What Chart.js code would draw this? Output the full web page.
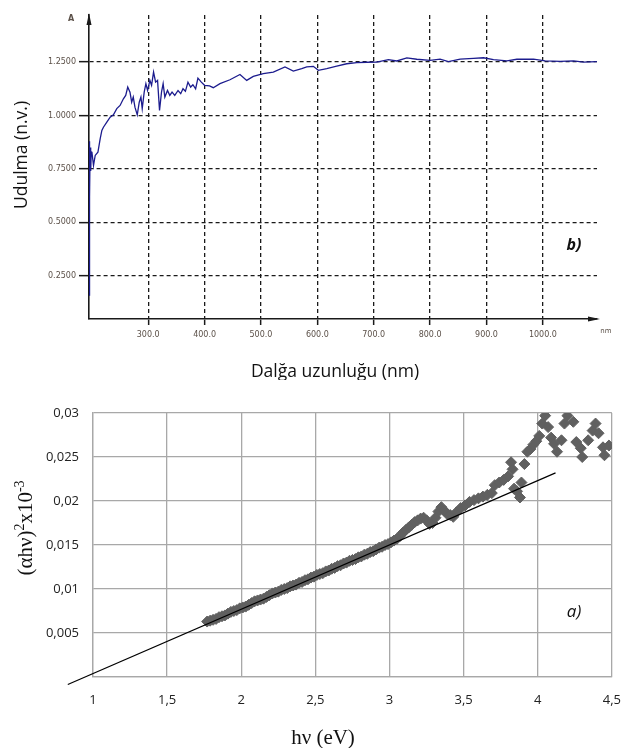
<!DOCTYPE html>
<html><head><meta charset="utf-8">
<script src="https://cdn.jsdelivr.net/npm/chart.js@4.4.0/dist/chart.umd.min.js"></script>
<style>
html,body{margin:0;padding:0;background:#fff;}
#wrap{position:relative;width:636px;height:748px;overflow:hidden;background:#fff;}
#c1{position:absolute;left:0;top:0;}
#c2{position:absolute;left:0;top:380px;}
</style></head><body>
<div id="wrap"><canvas id="c1" width="636" height="380"></canvas><canvas id="c2" width="636" height="368"></canvas></div>
<script>
// ---------- (b) absorption spectrum ----------
const wavelengthNm = [195,195.6,196.3,197,198,199,200.2,203,206,210.8,214.8,217.8,220.6,226.6,232.5,238.3,244.3,250.1,256,260.1,263.7,267.7,270.7,273.5,276.5,280.6,284.1,287.1,289.4,292.9,295.9,298.9,303,306,309.5,313.1,316.6,320.1,323.6,326.5,329.5,334.2,338.3,342.3,347.1,352.9,357.7,361.7,366,370.5,375.3,379.3,384.1,388.2,394.2,400,408.8,415.4,427.3,445,462.8,474.7,486.4,504.1,521.9,542.6,557.4,572.3,581.2,592.9,601.8,616.7,634.4,652.2,669.9,687.7,705.4,726,740.9,758.7,776.4,800,817.7,832.5,853.3,876.9,894.6,912.4,936.2,953.9,983.4,1004.1,1030.8,1054.4,1072.1,1095.9];
const absorbance = [0.16,0.88,0.62,0.85,0.74,0.83,0.828,0.766,0.813,0.828,0.891,0.93,0.945,0.969,0.992,1.003,1.032,1.047,1.078,1.094,1.133,1.109,1.062,1.086,1.039,1.003,1.062,1.086,1.032,1.109,1.149,1.117,1.164,1.141,1.203,1.156,1.164,1.024,1.109,1.149,1.086,1.117,1.094,1.109,1.094,1.117,1.102,1.125,1.113,1.156,1.133,1.144,1.125,1.175,1.156,1.141,1.138,1.13,1.149,1.167,1.192,1.164,1.183,1.196,1.203,1.227,1.208,1.219,1.227,1.23,1.211,1.219,1.231,1.242,1.247,1.249,1.25,1.261,1.255,1.269,1.263,1.258,1.264,1.252,1.264,1.267,1.27,1.261,1.255,1.263,1.264,1.255,1.253,1.255,1.25,1.252];
const wavelengthTicks = [300,400,500,600,700,800,900,1000];
const absorbanceTicks = [0.25,0.5,0.75,1.0,1.25];

// ---------- (a) Tauc plot ----------
const photonEnergy = [
1.77,1.79,1.81,1.83,1.85,1.87,1.89,1.91,1.93,1.95,
1.97,1.99,2.01,2.03,2.05,2.07,2.09,2.11,2.13,2.15,
2.17,2.19,2.21,2.23,2.25,2.27,2.29,2.31,2.33,2.35,
2.37,2.39,2.41,2.43,2.45,2.47,2.49,2.51,2.53,2.55,
2.57,2.59,2.61,2.63,2.65,2.67,2.69,2.71,2.73,2.75,
2.77,2.79,2.81,2.83,2.85,2.87,2.89,2.91,2.93,2.95,
2.97,2.99,3.01,3.03,3.05,3.07,3.09,3.11,3.13,3.15,
3.17,3.19,3.21,3.23,3.25,3.27,3.29,3.31,3.33,3.35,
3.37,3.39,3.41,3.43,3.45,3.48,3.51,3.54,3.57,3.60,
3.63,3.66,3.69,3.71,3.74,3.77,3.80,3.82,3.83,3.84,
3.86,3.88,3.89,3.91,3.93,3.95,3.97,3.99,4.01,4.03,
4.05,4.07,4.09,4.11,4.13,4.16,4.18,4.20,4.24,4.26,
4.29,4.30,4.34,4.37,4.39,4.41,4.44,4.45,4.48];
const tauc = [
0.0063,0.0064,0.0065,0.0066,0.0068,0.0069,0.0070,0.0072,0.0074,0.0075,
0.0076,0.0078,0.0079,0.0080,0.0082,0.0084,0.0086,0.0087,0.0088,0.0089,
0.0091,0.0093,0.0095,0.0096,0.0097,0.0099,0.0100,0.0101,0.0103,0.0104,
0.0105,0.0107,0.0108,0.0110,0.0111,0.0113,0.0114,0.0116,0.0117,0.0118,
0.0120,0.0121,0.0123,0.0124,0.0126,0.0127,0.0129,0.0130,0.0132,0.0133,
0.0134,0.0136,0.0137,0.0139,0.0140,0.0142,0.0143,0.0145,0.0147,0.0148,
0.0150,0.0151,0.0153,0.0155,0.0157,0.0160,0.0164,0.0167,0.0170,0.0173,
0.0176,0.0178,0.0180,0.0181,0.0178,0.0174,0.0175,0.0181,0.0188,0.0193,
0.0189,0.0185,0.0184,0.0182,0.0187,0.0192,0.0195,0.0199,0.0201,0.0203,
0.0205,0.0207,0.0209,0.0218,0.0221,0.0224,0.0228,0.0244,0.0236,0.0214,
0.0211,0.0204,0.0221,0.0242,0.0256,0.0259,0.0264,0.0268,0.0274,0.0288,
0.0297,0.0284,0.0272,0.0265,0.0256,0.0269,0.0288,0.0297,0.0290,0.0267,
0.0260,0.0250,0.0269,0.0280,0.0288,0.0277,0.0261,0.0252,0.0263];
const fitEnergy = [0.83, 4.12];
const fitTauc = [-0.00086, 0.0232];
const energyTicks = [1,1.5,2,2.5,3,3.5,4,4.5];
const taucTicks = [0,0.005,0.01,0.015,0.02,0.025,0.03];

// ---------- top chart ----------
const topDecor = {
  id:'topDecor',
  afterDraw(chart){
    const {ctx, chartArea:a} = chart;
    ctx.save();
    ctx.fillStyle = '#1a1a1a';
    ctx.beginPath(); ctx.moveTo(a.left, a.top-2); ctx.lineTo(a.left-2.5, a.top+10); ctx.lineTo(a.left+2.5, a.top+10); ctx.closePath(); ctx.fill();
    ctx.beginPath(); ctx.moveTo(a.right+3, a.bottom); ctx.lineTo(a.right-9, a.bottom-2.5); ctx.lineTo(a.right-9, a.bottom+2.5); ctx.closePath(); ctx.fill();
    ctx.textAlign = 'center'; ctx.textBaseline = 'middle';
    ctx.fillStyle = '#5b5048';
    ctx.font = 'bold 8px "DejaVu Sans"'; ctx.fillText('A', 71, 19);
    ctx.font = '7px "DejaVu Sans"'; ctx.fillText('nm', 606, 331);
    ctx.fillStyle = '#111';
    ctx.font = 'italic bold 16px "Open Sans"'; ctx.fillText('b)', 574, 245);
    ctx.font = '17.5px "Open Sans"'; ctx.fillText('Dalğa uzunluğu (nm)', 335, 372);
    ctx.translate(22, 155); ctx.rotate(-Math.PI/2);
    ctx.fillText('Udulma (n.v.)', 0, 0);
    ctx.restore();
  }
};
new Chart(document.getElementById('c1'), {
  type:'line',
  data:{datasets:[{data: wavelengthNm.map((x,i)=>({x:x, y:absorbance[i]})), borderColor:'#1c1c8e', borderWidth:1.3, pointRadius:0, tension:0, fill:false}]},
  options:{
    responsive:false, animation:false,
    layout:{padding:{left:0, top:15, right:39, bottom:0}},
    plugins:{legend:{display:false}, tooltip:{enabled:false}},
    scales:{
      x:{type:'linear', min:195, max:1096,
        afterBuildTicks:s=>{s.ticks = wavelengthTicks.map(v=>({value:v}));},
        afterFit:s=>{s.height = 61;},
        ticks:{callback:v=>Number(v).toFixed(1), font:{family:'DejaVu Sans', size:8}, color:'#5b5048', padding:5, maxRotation:0, autoSkip:false},
        grid:{color:'#1a1a1a', lineWidth:1.3, tickLength:6, tickColor:'#1a1a1a', tickWidth:1.5, tickBorderDash:[]},
        border:{display:true, color:'#1a1a1a', width:1.6, dash:[4,3]}
      },
      y:{type:'linear', min:0.048, max:1.47,
        afterBuildTicks:s=>{s.ticks = absorbanceTicks.map(v=>({value:v}));},
        afterFit:s=>{s.width = 89;},
        ticks:{callback:v=>Number(v).toFixed(4), font:{family:'DejaVu Sans', size:8}, color:'#5b5048', padding:3, autoSkip:false},
        grid:{color:'#1a1a1a', lineWidth:1.3, tickLength:10, tickColor:'#1a1a1a', tickWidth:1.5, tickBorderDash:[]},
        border:{display:true, color:'#1a1a1a', width:1.6, dash:[4,3]}
      }
    }
  },
  plugins:[topDecor]
});

// ---------- bottom chart ----------
const bottomDecor = {
  id:'bottomDecor',
  afterDraw(chart){
    const ctx = chart.ctx;
    ctx.save();
    ctx.fillStyle = '#111';
    ctx.textBaseline = 'middle'; ctx.textAlign = 'center';
    ctx.font = 'italic 17px "Open Sans"'; ctx.fillText('a)', 574, 232);
    ctx.font = '21px "Liberation Serif"'; ctx.fillText('hν (eV)', 323, 358);
    ctx.translate(25, 148); ctx.rotate(-Math.PI/2);
    const segs = [['(αhν)', '21px "Liberation Serif"', 0], ['2', '14px "Liberation Serif"', -8], ['x10', '21px "Liberation Serif"', 0], ['-3', '14px "Liberation Serif"', -8]];
    let total = 0;
    segs.forEach(s=>{ctx.font = s[1]; total += ctx.measureText(s[0]).width;});
    let x = -total/2;
    ctx.textAlign = 'left'; ctx.textBaseline = 'alphabetic';
    segs.forEach(s=>{ctx.font = s[1]; ctx.fillText(s[0], x, 7 + s[2]); x += ctx.measureText(s[0]).width;});
    ctx.restore();
  }
};
new Chart(document.getElementById('c2'), {
  type:'scatter',
  data:{datasets:[
    {type:'line', data: fitEnergy.map((x,i)=>({x:x, y:fitTauc[i]})), borderColor:'#000', borderWidth:1.2, pointRadius:0, clip:false, fill:false, tension:0},
    {data: photonEnergy.map((x,i)=>({x:x, y:tauc[i]})), pointStyle:'rectRot', pointRadius:5.5, backgroundColor:'#606060', borderColor:'#606060', borderWidth:1}
  ]},
  options:{
    responsive:false, animation:false,
    layout:{padding:{left:0, top:33, right:11, bottom:0}},
    plugins:{legend:{display:false}, tooltip:{enabled:false}},
    scales:{
      x:{type:'linear', min:1, max:4.5,
        afterBuildTicks:s=>{s.ticks = energyTicks.map(v=>({value:v}));},
        afterFit:s=>{s.height = 71;},
        ticks:{callback:v=>String(v).replace('.', ','), font:{family:'Open Sans', size:13}, color:'#222', padding:15, maxRotation:0, autoSkip:false},
        grid:{color:'#a8a8a8', lineWidth:1.3, drawTicks:false},
        border:{color:'#a8a8a8', width:1.3}
      },
      y:{type:'linear', min:0, max:0.03,
        afterBuildTicks:s=>{s.ticks = taucTicks.map(v=>({value:v}));},
        afterFit:s=>{s.width = 93;},
        ticks:{callback:v=>(v===0 ? '' : String(v).replace('.', ',')), font:{family:'Open Sans', size:13}, color:'#222', padding:14, autoSkip:false},
        grid:{color:'#a8a8a8', lineWidth:1.3, drawTicks:false},
        border:{color:'#a8a8a8', width:1.3}
      }
    }
  },
  plugins:[bottomDecor]
});
</script>
</body></html>
